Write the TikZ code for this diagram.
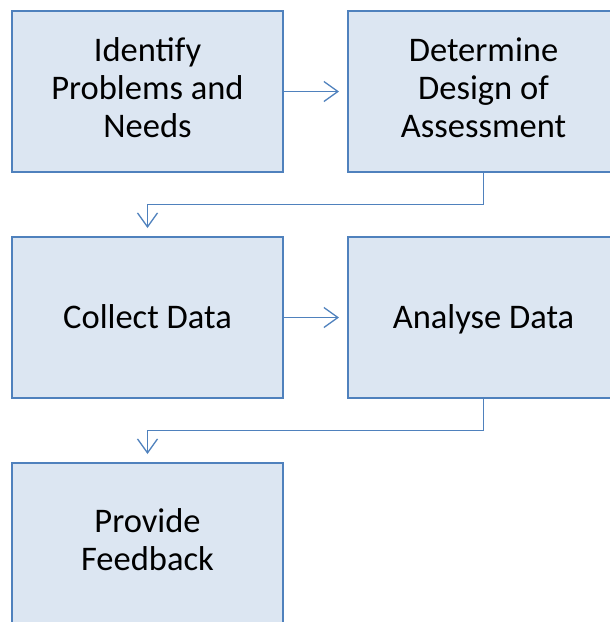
\documentclass[tikz,border=0pt]{standalone}
\usepackage{fontspec}
\setmainfont{Carlito}
\usetikzlibrary{arrows.meta,positioning}
\definecolor{boxfill}{HTML}{DCE6F2}
\definecolor{boxline}{HTML}{4F81BD}
% fixed line height, so one-line and three-line labels sit alike
\newcommand{\boxstrut}{\rule[-7.9pt]{0pt}{38pt}}
\begin{document}
\begin{tikzpicture}[
  node distance=63pt and 63pt,
  box/.style={rectangle, draw=boxline, fill=boxfill, line width=2pt, minimum width=271pt, minimum height=161pt, align=center, font=\fontsize{34.5}{38}\selectfont, execute at begin node=\boxstrut, execute at end node=\boxstrut},
  arrow/.style={-{Straight Barb[length=14pt,width=20pt]}, draw=boxline, line width=1.3pt, shorten >=8pt}
]
  \useasboundingbox (0,0) rectangle (610pt,-622pt);
  \clip (0,0) rectangle (610pt,-622pt);
  \node[box] (ident) at (147.5pt,-91.5pt) {Identify\\Problems and\\Needs};
  \node[box, right=of ident] (design) {Determine\\Design of\\Assessment};
  \node[box, below=of ident] (collect) {Collect Data};
  \node[box, right=of collect] (analyse) {Analyse Data};
  \node[box, below=of collect] (feedback) {Provide\\Feedback};
  \draw[arrow] (ident) -- (design);
  \draw[arrow] (design.south) -- ++(0,-31.5pt) -| (collect.north);
  \draw[arrow] (collect) -- (analyse);
  \draw[arrow] (analyse.south) -- ++(0,-31.5pt) -| (feedback.north);
\end{tikzpicture}
\end{document}
